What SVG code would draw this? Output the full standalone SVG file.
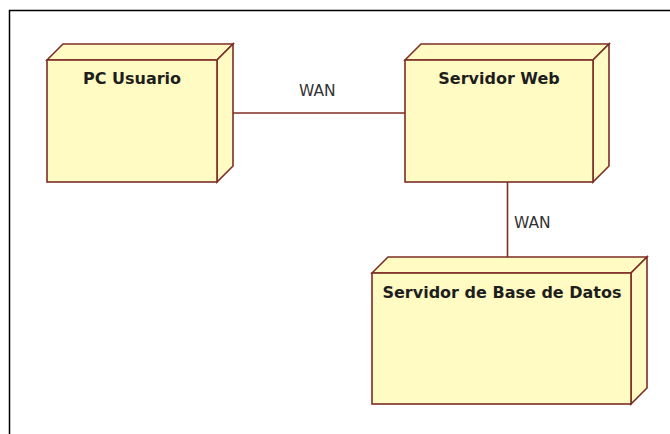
<svg xmlns="http://www.w3.org/2000/svg" width="670" height="434" viewBox="0 0 670 434">
  <style>
    .face { fill: #FFFBC2; stroke: #7E2E26; stroke-width: 1.6; stroke-linejoin: miter; }
    .title { font-family: "DejaVu Sans", "Liberation Sans", sans-serif; font-weight: bold; font-size: 16px; fill: #1E1E1E; text-anchor: middle; }
    .conn { stroke: #7E2E26; stroke-width: 1.6; fill: none; }
    .label { font-family: "DejaVu Sans", "Liberation Sans", sans-serif; font-size: 15.5px; fill: #333333; }
  </style>
  <rect x="0" y="0" width="670" height="434" fill="#FFFFFF"/>
  <!-- diagram frame -->
  <path d="M9.5 434 V10.5 H670" fill="none" stroke="#000000" stroke-width="1.5"/>

  <g id="connectors">
    <line class="conn" x1="233" y1="113" x2="405" y2="113"/>
    <text class="label" x="299" y="96">WAN</text>
    <line class="conn" x1="507.5" y1="182" x2="507.5" y2="257"/>
    <text class="label" x="514" y="228">WAN</text>
  </g>

  <g id="pc-usuario">
    <polygon class="face" points="47,60 63,44 233,44 217,60"/>
    <polygon class="face" points="217,60 233,44 233,166 217,182"/>
    <rect class="face" x="47" y="60" width="170" height="122"/>
    <text class="title" x="132" y="84">PC Usuario</text>
  </g>

  <g id="servidor-web">
    <polygon class="face" points="405,60 421,44 609,44 593,60"/>
    <polygon class="face" points="593,60 609,44 609,166 593,182"/>
    <rect class="face" x="405" y="60" width="188" height="122"/>
    <text class="title" x="499" y="84">Servidor Web</text>
  </g>

  <g id="servidor-bd">
    <polygon class="face" points="372,273 388,257 647,257 631,273"/>
    <polygon class="face" points="631,273 647,257 647,388 631,404"/>
    <rect class="face" x="372" y="273" width="259" height="131"/>
    <text class="title" x="502" y="298">Servidor de Base de Datos</text>
  </g>
</svg>
